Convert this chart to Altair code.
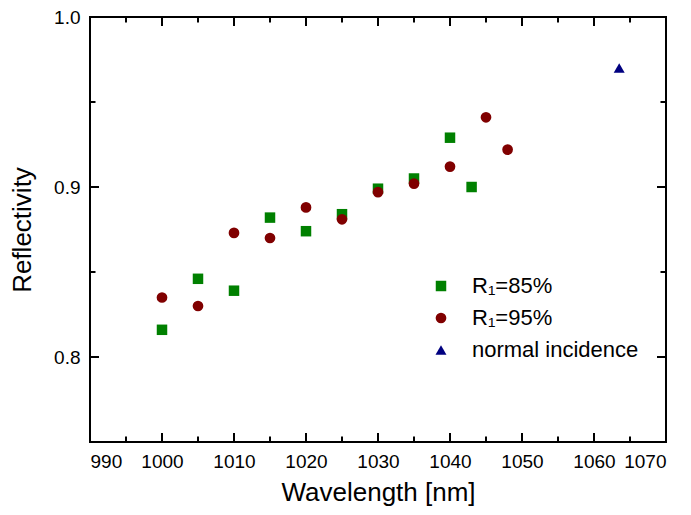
import altair as alt
import pandas as pd

# ---- data ----
wl_85 = [1000, 1005, 1010, 1015, 1020, 1025, 1030, 1035, 1040, 1043]
r_85 = [0.816, 0.846, 0.839, 0.882, 0.874, 0.884, 0.899, 0.905, 0.929, 0.900]
wl_95 = [1000, 1005, 1010, 1015, 1020, 1025, 1030, 1035, 1040, 1045, 1048]
r_95 = [0.835, 0.830, 0.873, 0.870, 0.888, 0.881, 0.897, 0.902, 0.912, 0.941, 0.922]
wl_normal = [1063.5]
r_normal = [0.970]

series_names = ["R\u2081=85%", "R\u2081=95%", "normal incidence"]
series_colors = ["#008000", "#800000", "#000080"]
series_shapes = ["square", "circle", "triangle-up"]
series_sizes = [110, 120, 210]

x_major = [990, 1000, 1010, 1020, 1030, 1040, 1050, 1060, 1070]
x_minor = [995, 1005, 1015, 1025, 1035, 1045, 1055, 1065]
y_major = [0.8, 0.9, 1.0]
y_minor = [0.75, 0.85, 0.95]

W, H = 576, 425
FONT = "Liberation Sans"

rows = []
for name, xs, ys in zip(series_names, [wl_85, wl_95, wl_normal], [r_85, r_95, r_normal]):
    for a, b in zip(xs, ys):
        rows.append({"wl": a, "r": b, "series": name})
df = pd.DataFrame(rows)

xscale = alt.Scale(domain=[990, 1070], nice=False, zero=False)
yscale = alt.Scale(domain=[0.75, 1.0], nice=False, zero=False)

points = alt.Chart(df).mark_point(filled=True, opacity=1).encode(
    x=alt.X("wl:Q", scale=xscale,
            axis=alt.Axis(title="Wavelength [nm]", values=x_major, format="d",
                          ticks=False, domain=False, grid=False, labelPadding=10,
                          labelFontSize=19, titleFontSize=26, titlePadding=8,
                          labelFont=FONT, titleFont=FONT, labelColor="black",
                          titleColor="black", titleFontWeight="normal")),
    y=alt.Y("r:Q", scale=yscale,
            axis=alt.Axis(title="Reflectivity", values=y_major, format=".1f",
                          ticks=False, domain=False, grid=False, labelPadding=10,
                          labelFontSize=19, titleFontSize=26, titlePadding=18,
                          labelFont=FONT, titleFont=FONT, labelColor="black",
                          titleColor="black", titleFontWeight="normal")),
    color=alt.Color("series:N",
                    scale=alt.Scale(domain=series_names, range=series_colors),
                    legend=alt.Legend(title=None, orient="none", legendX=340, legendY=258,
                                      labelFontSize=22, labelFont=FONT, labelColor="black",
                                      labelLimit=400,
                                      symbolSize=140, rowPadding=10, labelOffset=20,
                                      symbolStrokeWidth=0, symbolOpacity=1)),
    shape=alt.Shape("series:N",
                    scale=alt.Scale(domain=series_names, range=series_shapes),
                    legend=None),
    size=alt.Size("series:N",
                  scale=alt.Scale(domain=series_names, range=series_sizes),
                  legend=None),
)

def tick_layer(vals, axis, length):
    d = pd.DataFrame({"v": vals})
    layers = []
    if axis == "x":
        layers.append(alt.Chart(d).mark_rule(color="black", strokeWidth=2).encode(
            x=alt.X("v:Q", scale=xscale), y=alt.value(H), y2=alt.value(H - length)))
        layers.append(alt.Chart(d).mark_rule(color="black", strokeWidth=2).encode(
            x=alt.X("v:Q", scale=xscale), y=alt.value(0), y2=alt.value(length)))
    else:
        layers.append(alt.Chart(d).mark_rule(color="black", strokeWidth=2).encode(
            y=alt.Y("v:Q", scale=yscale), x=alt.value(0), x2=alt.value(length)))
        layers.append(alt.Chart(d).mark_rule(color="black", strokeWidth=2).encode(
            y=alt.Y("v:Q", scale=yscale), x=alt.value(W), x2=alt.value(W - length)))
    return layers

ticks = (tick_layer(x_major, "x", 9) + tick_layer(x_minor, "x", 5.5)
         + tick_layer(y_major, "y", 9) + tick_layer(y_minor, "y", 5.5))

chart = alt.layer(*ticks, points).properties(
    width=W, height=H,
    background="white",
    autosize=alt.AutoSizeParams(type="none"),
    padding={"left": 82, "top": 9, "right": 10, "bottom": 70},
).configure_view(stroke="black", strokeWidth=2)

chart.save("out.html", embed_options={"renderer": "svg", "actions": False})
